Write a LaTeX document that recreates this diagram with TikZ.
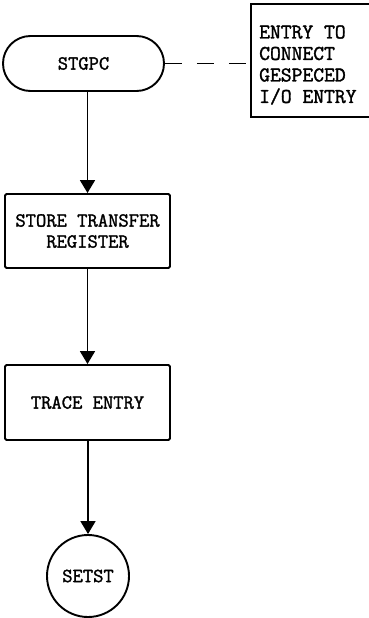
\documentclass[tikz,border=0pt]{standalone}
\usepackage{fontspec}
\newfontfamily\typew{Latin Modern Mono}[FakeBold=1.6]
\usetikzlibrary{arrows.meta,shapes.misc}
\begin{document}
\begin{tikzpicture}[x=1pt,y=-1pt,
  base/.style={draw=black, line width=1.9pt, font=\typew\fontsize{20}{21}\selectfont, align=center, inner sep=0pt},
  term/.style={base, rounded rectangle, minimum width=161pt, minimum height=55pt},
  proc/.style={base, rectangle, rounded corners=1.5pt, minimum width=165pt, minimum height=74pt},
  conn/.style={base, circle, minimum size=82pt},
  notebox/.style={draw=black, line width=1.9pt, rectangle, minimum width=160pt, minimum height=113pt, anchor=north west, inner sep=0pt},
  notetext/.style={font=\typew\fontsize{21}{21.5}\selectfont, align=left, inner sep=0pt, anchor=west},
  flow/.style={line width=1.8pt, -{Triangle[width=15pt,length=13pt]}},
  link/.style={line width=1.8pt, dash pattern=on 17pt off 15pt}
]
\useasboundingbox (0,0) rectangle (368,618);
\node[term] (stgpc) at (83.5,63.5) {STGPC};
\node[proc] (store) at (87.5,231) {STORE TRANSFER\\REGISTER};
\node[proc, minimum height=75pt] (trace) at (87.5,402.5) {\raisebox{-5pt}{TRACE ENTRY}};
\node[conn] (setst) at (88,576) {SETST};
\node[notebox] (note) at (250,3) {};
\node[notetext] (notetxt) at (259,65) {ENTRY TO\\CONNECT\\GESPECED\\I/O ENTRY};
\draw[link] (stgpc.east) -- (stgpc.east -| note.west);
\draw[flow] (store.north |- stgpc.south) -- (store.north);
\draw[flow] (store.south) -- (trace.north);
\draw[flow] (trace.south -| setst.north) -- (setst.north);
\end{tikzpicture}
\end{document}
